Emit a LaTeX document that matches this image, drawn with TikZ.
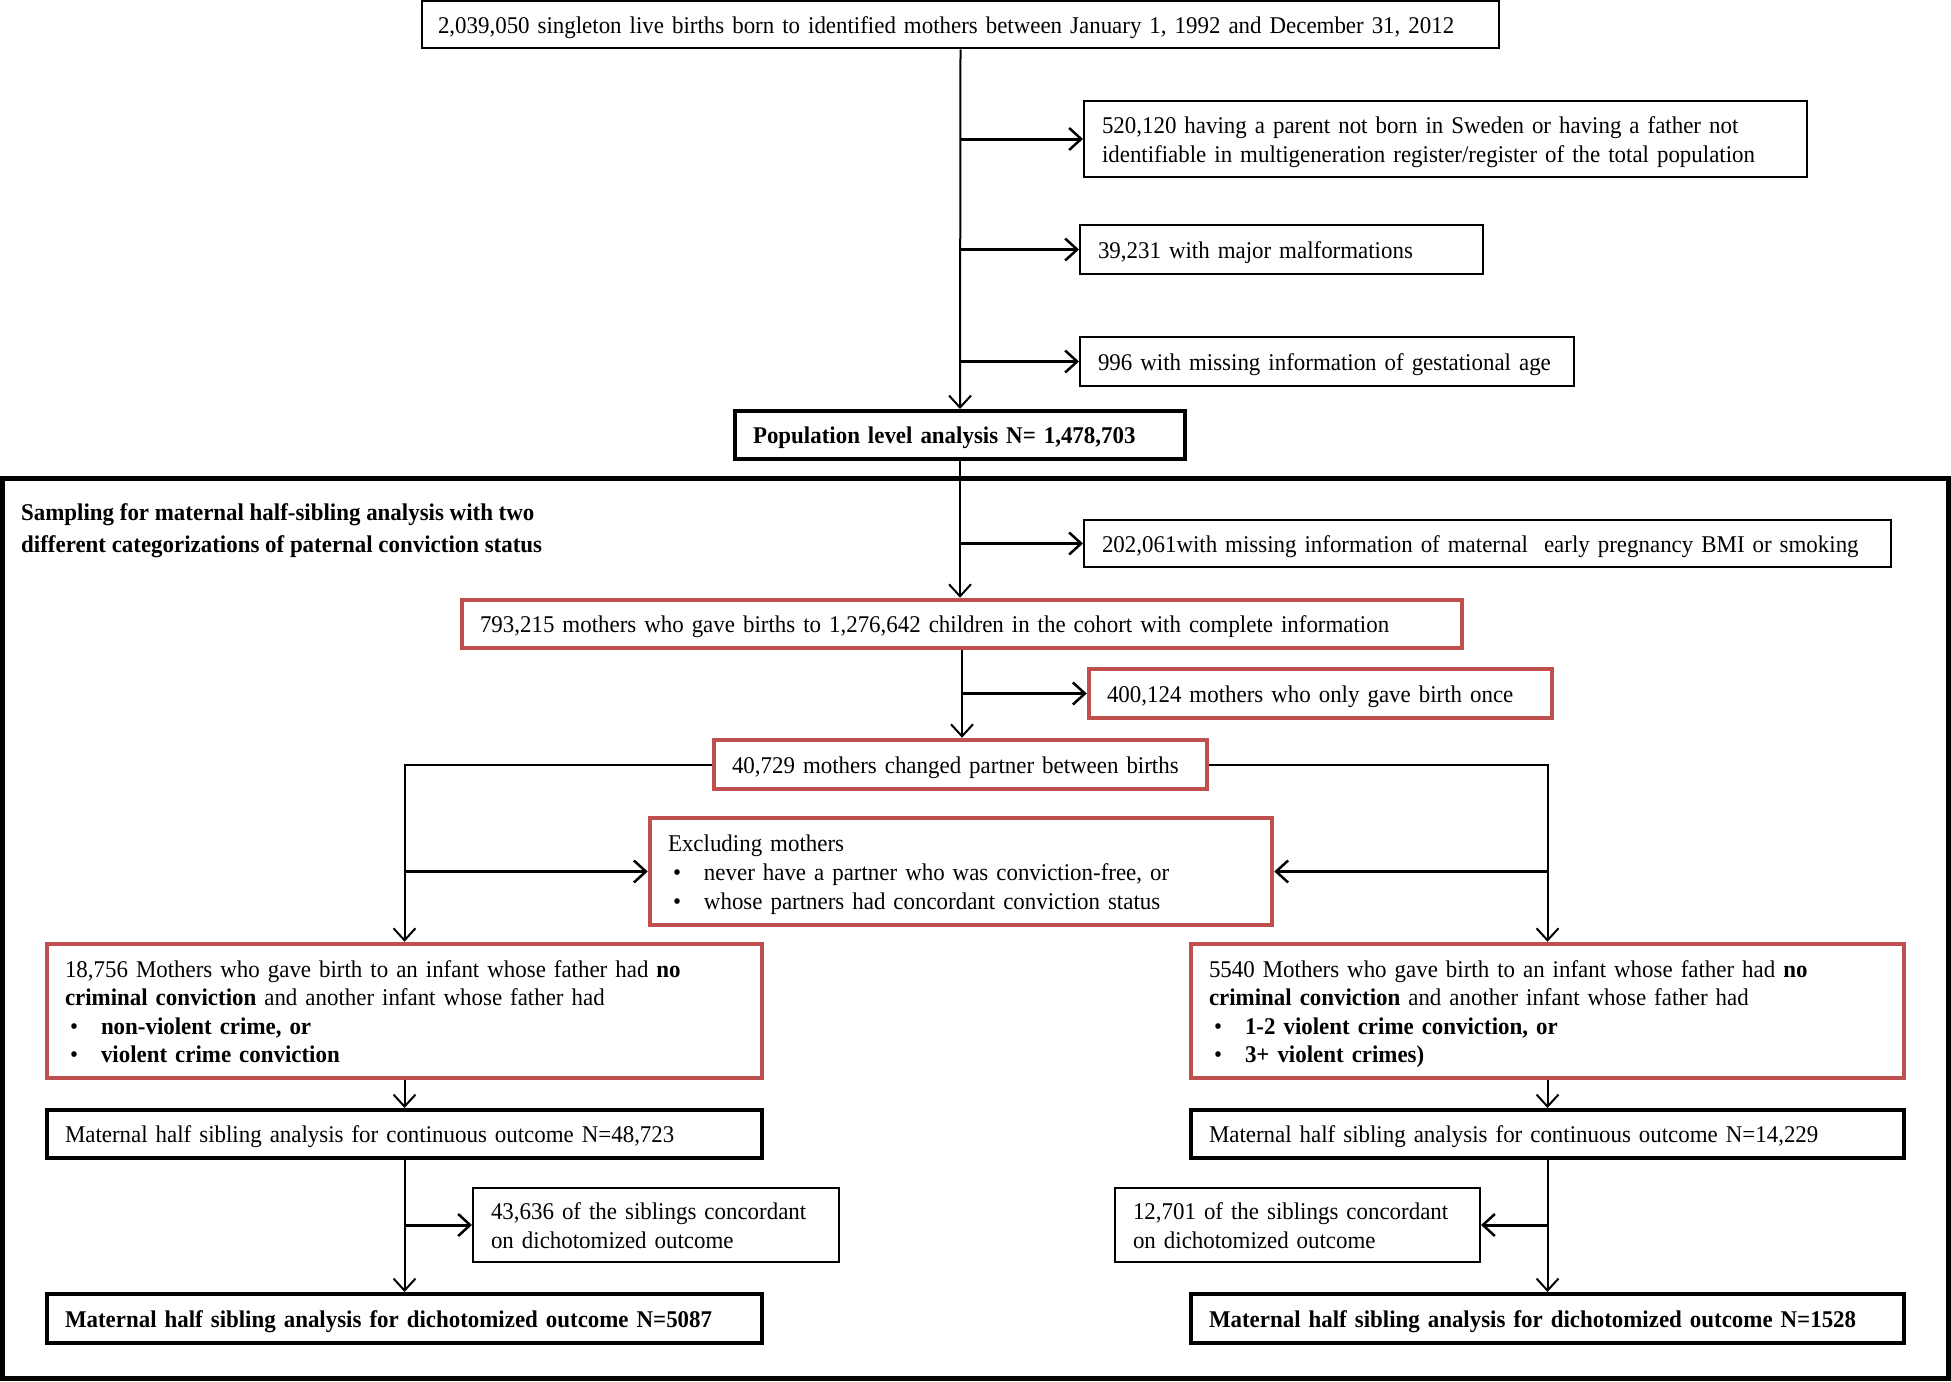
\documentclass[tikz,border=0pt]{standalone}
\usepackage{fontspec}
\setmainfont{Liberation Serif}[FakeStretch=0.955]
\usetikzlibrary{arrows.meta}
\definecolor{boxred}{RGB}{192,80,77}
\newcommand\bul[1]{\makebox[36pt][l]{\hspace{5pt}\textbullet}#1}
\begin{document}
\begin{tikzpicture}[x=1pt,y=-1pt,
  font=\fontsize{24}{28.6}\selectfont,
  base/.style={draw, inner ysep=0pt, inner xsep=18pt, align=left, anchor=center,
    execute at begin node={\rule{0pt}{23pt}}, execute at end node={\rule[-5pt]{0pt}{5pt}}},
  thinbox/.style={base, line width=2pt},
  thickbox/.style={base, line width=4pt},
  redbox/.style={base, draw=boxred, line width=4.5pt},
  vline/.style={line width=2pt, -{Straight Barb[length=12pt,width=22pt,line width=2pt]}},
  hline/.style={line width=3pt, -{Straight Barb[length=12pt,width=22pt,line width=2.5pt]}},
  plainline/.style={line width=2pt}]
\useasboundingbox (0,0) rectangle (1951,1381);
% frame
\draw[line width=5pt] (2.5,478) rectangle (1948.5,1378.5);

\node[thinbox, minimum width=1077pt, minimum height=47pt, text width=1045pt, inner xsep=16pt] (top) at (960.5,25)
  {2,039,050 singleton live births born to identified mothers between January 1, 1992 and December 31, 2012};
\node[thinbox, minimum width=723pt, minimum height=76pt, text width=687pt] (b520) at (1445.5,139)
  {520,120 having a parent not born in Sweden or having a father not\\identifiable in multigeneration register/register of the total population};
\node[thinbox, minimum width=403pt, minimum height=49pt, text width=367pt] (b39) at (1281.5,249.5)
  {39,231 with major malformations};
\node[thinbox, minimum width=494pt, minimum height=49pt, text width=458pt] (b996) at (1327,361.5)
  {996 with missing information of gestational age};
\node[thickbox, minimum width=450pt, minimum height=48pt, text width=414pt, font=\fontsize{24}{28.6}\selectfont\bfseries] (pop) at (960,435)
  {Population level analysis N= 1,478,703};

\node[anchor=west, align=left, inner sep=0pt, font=\fontsize{24}{32}\selectfont\bfseries] (title) at (21,530.5)
  {Sampling for maternal half-sibling analysis with two\\different categorizations of paternal conviction status};

\node[thinbox, minimum width=807pt, minimum height=47pt, text width=771pt] (b202) at (1487.5,543.5)
  {202,061with missing information of maternal\ \ early pregnancy BMI or smoking};
\node[redbox, minimum width=1000pt, minimum height=48pt, text width=964pt] (b793) at (962,624)
  {793,215 mothers who gave births to 1,276,642 children in the cohort with complete information};
\node[redbox, minimum width=463pt, minimum height=49pt, text width=427pt] (b400) at (1320.5,693.5)
  {400,124 mothers who only gave birth once};
\node[redbox, minimum width=493pt, minimum height=49pt, text width=457pt] (b407) at (960.5,764.5)
  {40,729 mothers changed partner between births};
\node[redbox, minimum width=622pt, minimum height=107pt, text width=586pt] (bex) at (961,871.5)
  {Excluding mothers\\\bul{never have a partner who was conviction-free, or}\\\bul{whose partners had concordant conviction status}};

\node[redbox, minimum width=715pt, minimum height=134pt, text width=679pt] (bl) at (404.5,1011)
  {18,756 Mothers who gave birth to an infant whose father had \textbf{no}\\\textbf{criminal conviction} and another infant whose father had\\\bul{\textbf{non-violent crime, or}}\\\bul{\textbf{violent crime conviction}}};
\node[redbox, minimum width=713pt, minimum height=134pt, text width=677pt] (br) at (1547.5,1011)
  {5540 Mothers who gave birth to an infant whose father had \textbf{no}\\\textbf{criminal conviction} and another infant whose father had\\\bul{\textbf{1-2 violent crime conviction, or}}\\\bul{\textbf{3+ violent crimes)}}};

\node[thickbox, minimum width=715pt, minimum height=48pt, text width=679pt] (cl) at (404.5,1134)
  {Maternal half sibling analysis for continuous outcome N=48,723};
\node[thickbox, minimum width=713pt, minimum height=48pt, text width=677pt] (cr) at (1547.5,1134)
  {Maternal half sibling analysis for continuous outcome N=14,229};
\node[thinbox, minimum width=366pt, minimum height=74pt, text width=330pt] (kl) at (656,1225)
  {43,636 of the siblings concordant\\on dichotomized outcome};
\node[thinbox, minimum width=365pt, minimum height=74pt, text width=329pt] (kr) at (1297.5,1225)
  {12,701 of the siblings concordant\\on dichotomized outcome};
\node[thickbox, minimum width=715pt, minimum height=49pt, text width=679pt, font=\fontsize{24}{28.6}\selectfont\bfseries] (dl) at (404.5,1318.5)
  {Maternal half sibling analysis for dichotomized outcome N=5087};
\node[thickbox, minimum width=713pt, minimum height=49pt, text width=677pt, font=\fontsize{24}{28.6}\selectfont\bfseries] (dr) at (1547.5,1318.5)
  {Maternal half sibling analysis for dichotomized outcome N=1528};

% connectors
\draw[vline] (top.south) -- (pop.north);
\draw[hline] (top.south |- b520.west) -- (b520.west);
\draw[hline] (top.south |- b39.west) -- (b39.west);
\draw[hline] (top.south |- b996.west) -- (b996.west);

\draw[vline] (pop.south) -- (pop.south |- b793.north);
\draw[hline] (pop.south |- b202.west) -- (b202.west);

\draw[vline] (b793.south) -- (b793.south |- b407.north);
\draw[hline] (b793.south |- b400.west) -- (b400.west);

\draw[vline] (b407.west) -| (bl.north);
\draw[vline] (b407.east) -| (br.north);
\draw[hline] (bl.north |- bex.west) -- (bex.west);
\draw[hline] (br.north |- bex.east) -- (bex.east);

\draw[vline] (bl.south) -- (cl.north);
\draw[vline] (br.south) -- (cr.north);
\draw[vline] (cl.south) -- (dl.north);
\draw[vline] (cr.south) -- (dr.north);
\draw[hline] (cl.south |- kl.west) -- (kl.west);
\draw[hline] (cr.south |- kr.east) -- (kr.east);
\end{tikzpicture}
\end{document}
